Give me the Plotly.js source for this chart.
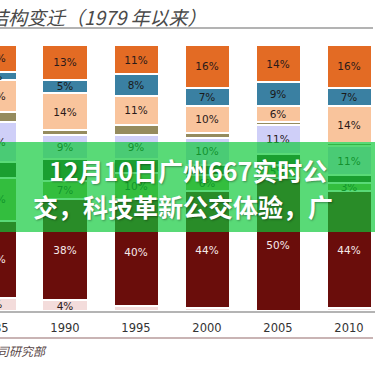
<!DOCTYPE html>
<html>
<head>
<meta charset="utf-8">
<script src="https://cdn.plot.ly/plotly-3.0.1.min.js"></script>
<style>
html,body{margin:0;padding:0;width:375px;height:375px;overflow:hidden;background:#fff;}
#chart{position:absolute;left:-30px;top:0;width:405px;height:375px;}
</style>
</head>
<body>
<div id="chart"></div>
<script>
// ---- data ----
const categories = ['1985', '1990', '1995', '2000', '2005', '2010'];
const pinkVals       = [5, 4, 2, 1, 0, 1];
const maroonVals     = [29, 38, 40, 44, 50, 44];
const lightGreenVals = [16, 7, 10, 6, 5, 3];
const darkGreenVals  = [6, 8, 5, 4, 4, 3];
const lavenderVals   = [15, 9, 9, 10, 11, 11];
const oliveVals      = [4, 2, 4, 2, 1, 1];
const peachVals      = [12, 14, 11, 10, 6, 14];
const blueVals       = [3, 5, 8, 7, 9, 7];
const orangeVals     = [10, 13, 11, 16, 14, 16];

const titleText = '结构变迁（1979 年以来）';
const sourceText = '公司研究部';
const bannerLine1 = '12月10日广州667实时公';
const bannerLine2 = '交，科技革新公交体验，广';

// ---- layout helpers ----
const D = 30, W = 405;            // div is shifted 30px left of the window
const T = 45, B = 64, PH = 266;    // plot area top margin / bottom margin / height
const px = sx => (sx + D) / W;     // screen x -> paper x
const py = sy => (T + PH - sy) / PH; // screen y -> paper y

function labels(vals, minShow) {
  return vals.map(v => (minShow !== null && v >= minShow) ? v + '%' : '');
}

const series = [
  {name: 'pink',       vals: pinkVals,       color: '#f3dcdb', txt: '#2a1a1a', min: 4},
  {name: 'maroon',     vals: maroonVals,     color: '#6a0d0b', txt: '#f6eaea', min: 1},
  {name: 'lightgreen', vals: lightGreenVals, color: '#8aa84e', txt: '#1e2a12', min: 1},
  {name: 'darkgreen',  vals: darkGreenVals,  color: '#3d4a22', txt: '#2a1a1a', min: null},
  {name: 'lavender',   vals: lavenderVals,   color: '#cfcff8', txt: '#2a1a1a', min: 1},
  {name: 'olive',      vals: oliveVals,      color: '#958b5e', txt: '#2a1a1a', min: null},
  {name: 'peach',      vals: peachVals,      color: '#f9c49c', txt: '#2a1a1a', min: 1},
  {name: 'blue',       vals: blueVals,       color: '#3a80a2', txt: '#1a1a1a', min: 1},
  {name: 'orange',     vals: orangeVals,     color: '#e36b24', txt: '#2a1a1a', min: 1}
];

const traces = series.map(s => ({
  type: 'bar',
  name: s.name,
  x: categories,
  y: s.vals,
  width: 0.634,
  marker: {color: s.color, line: {color: '#ffffff', width: 2}},
  text: labels(s.vals, s.min),
  textposition: 'inside',
  insidetextanchor: 'middle',
  textangle: 0,
  constraintext: 'none',
  textfont: {family: 'DejaVu Sans', size: 10.5, color: s.txt},
  hoverinfo: 'none',
  showlegend: false
}));

const layout = {
  width: W, height: 375,
  margin: {l: 0, r: 0, t: T, b: B, pad: 0},
  paper_bgcolor: '#ffffff',
  plot_bgcolor: '#ffffff',
  barmode: 'stack',
  xaxis: {
    type: 'category',
    range: [-0.338, 5.366],
    showline: true, linecolor: '#b4b4b4', linewidth: 1.5,
    ticks: '', showgrid: false, zeroline: false,
    ticklabelstandoff: 6,
    tickfont: {family: 'DejaVu Sans', size: 11.5, color: '#333333'},
    tickangle: 0
  },
  yaxis: {range: [0, 100], visible: false, fixedrange: true},
  shapes: [
    {type: 'line', xref: 'paper', yref: 'paper', x0: 0, x1: px(373), y0: py(28), y1: py(28),
     line: {color: '#9a9a9a', width: 1.5}},
    {type: 'line', xref: 'paper', yref: 'paper', x0: 0, x1: px(373), y0: py(338), y1: py(338),
     line: {color: '#c9b4b4', width: 2}},
    {type: 'rect', xref: 'paper', yref: 'paper', x0: 0, x1: 1, y0: py(232), y1: py(142),
     fillcolor: 'rgba(10,200,55,0.68)', line: {width: 0}, layer: 'above'}
  ],
  annotations: [
    {xref: 'paper', yref: 'paper', x: px(208), y: py(17), xanchor: 'right', yanchor: 'middle',
     text: '<i>' + titleText + '</i>', showarrow: false,
     font: {family: 'Noto Sans CJK SC', size: 19, color: '#4a4a4a'}},
    {xref: 'paper', yref: 'paper', x: px(49), y: py(350), xanchor: 'right', yanchor: 'middle',
     text: '<i>' + sourceText + '</i>', showarrow: false,
     font: {family: 'Noto Sans CJK SC', size: 12, color: '#5a4848'}},
    {xref: 'paper', yref: 'paper', x: px(188), y: py(170), xanchor: 'center', yanchor: 'middle',
     text: '<b>' + bannerLine1 + '</b>', showarrow: false,
     font: {family: 'Noto Sans CJK SC', size: 25, color: '#ffffff', shadow: '1px 1px 2px rgba(0,0,0,0.35)'}},
    {xref: 'paper', yref: 'paper', x: px(183), y: py(206), xanchor: 'center', yanchor: 'middle',
     text: '<b>' + bannerLine2 + '</b>', showarrow: false,
     font: {family: 'Noto Sans CJK SC', size: 25, color: '#ffffff', shadow: '1px 1px 2px rgba(0,0,0,0.35)'}}
  ]
};

Plotly.newPlot('chart', traces, layout, {staticPlot: true, displayModeBar: false});
</script>
</body>
</html>
